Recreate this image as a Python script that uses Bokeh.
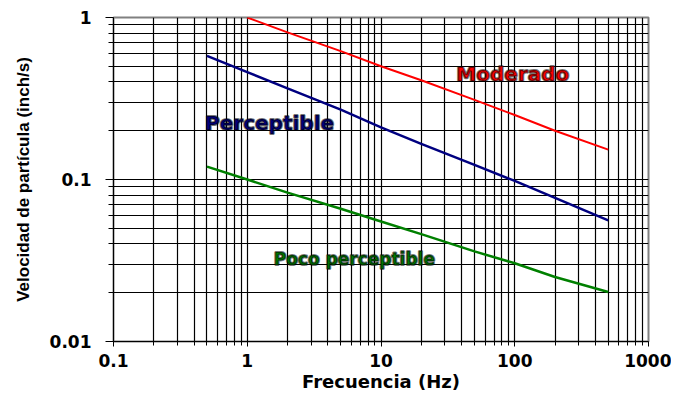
from bokeh.plotting import figure
from bokeh.embed import file_html
from bokeh.resources import INLINE
from bokeh.models import FixedTicker, CustomJSTickFormatter
from bokeh.core.properties import value

# ---- data ----
freq_moderado = [1, 2, 5, 10, 20, 50, 100, 200, 500]
vel_moderado = [1.0, 0.81, 0.62, 0.50, 0.41, 0.31, 0.25, 0.20, 0.153]

freq_percept = [0.5, 1, 2, 5, 10, 20, 50, 100, 200, 500]
vel_percept = [0.58, 0.46, 0.365, 0.27, 0.21, 0.166, 0.123, 0.098, 0.077, 0.056]

freq_poco = [0.5, 1, 2, 5, 10, 20, 50, 100, 200, 500]
vel_poco = [0.12, 0.10, 0.083, 0.066, 0.055, 0.046, 0.036, 0.0304, 0.025, 0.0202]

x_major = [0.1, 1, 10, 100, 1000]
y_major = [0.01, 0.1, 1]

labels = ["Moderado", "Perceptible", "Poco perceptible"]
label_x = [36.6, 0.484, 1.58]
label_y = [0.447, 0.224, 0.0323]
label_colors = ["#FF0000", "#000080", "#008000"]

# styles (not data)
label_sizes = ["20px", "20px", "17px"]

x_minor = [m * d for d in [0.1, 1, 10, 100] for m in range(2, 10)]
y_minor = [m * d for d in [0.01, 0.1] for m in range(2, 10)]

p = figure(width=671, height=395, x_axis_type="log", y_axis_type="log",
           x_range=(0.1, 1000), y_range=(0.01, 1),
           output_backend="svg", toolbar_location=None,
           min_border_left=113, min_border_top=17,
           min_border_right=23, min_border_bottom=54)

p.background_fill_color = "white"
p.border_fill_color = "white"
p.outline_line_color = "#808080"
p.outline_line_width = 2

fmt = CustomJSTickFormatter(code="return String(tick)")

for ax, maj, mnr in ((p.xaxis[0], x_major, x_minor), (p.yaxis[0], y_major, y_minor)):
    ax.ticker = FixedTicker(ticks=maj, minor_ticks=mnr)
    ax.formatter = fmt
    ax.axis_line_color = "black"
    ax.axis_line_width = 1
    ax.major_tick_line_color = "black"
    ax.minor_tick_line_color = "black"
    ax.major_tick_in = 0
    ax.minor_tick_in = 0
    ax.major_label_text_font = "DejaVu Sans"
    ax.major_label_text_font_style = "bold"
    ax.major_label_text_font_size = "17px"
    ax.major_label_text_color = "black"
    ax.axis_label_text_color = "black"
    ax.axis_label_text_font_style = "bold"

p.xaxis.major_tick_out = 5
p.xaxis.minor_tick_out = 4
p.xaxis.major_label_standoff = 7
p.xaxis.axis_label = "Frecuencia (Hz)"
p.xaxis.axis_label_text_font = "DejaVu Sans"
p.xaxis.axis_label_text_font_size = "18px"
p.xaxis.axis_label_standoff = 1

p.yaxis.major_tick_out = 8
p.yaxis.minor_tick_out = 5
p.yaxis.major_label_standoff = 14
p.yaxis.axis_label = "Velocidad de partícula (inch/s)"
p.yaxis.axis_label_text_font = "Liberation Sans"
p.yaxis.axis_label_text_font_size = "17px"
p.yaxis.axis_label_standoff = 14

for g in (p.xgrid[0], p.ygrid[0]):
    g.grid_line_color = "#000000"
    g.grid_line_width = 1.2
    g.minor_grid_line_color = "#000000"
    g.minor_grid_line_width = 1.2

p.line(freq_moderado, vel_moderado, line_color="#FF0000", line_width=2)
p.line(freq_percept, vel_percept, line_color="#000080", line_width=2.5)
p.line(freq_poco, vel_poco, line_color="#008000", line_width=2.5)

for lx, ly, lt, lc, ls in zip(label_x, label_y, labels, label_colors, label_sizes):
    p.text(x=[lx], y=[ly], text=[lt], text_color=lc,
           text_font=value("DejaVu Sans"), text_font_style="bold",
           text_font_size=ls, text_baseline="middle", text_align="left",
           text_outline_color="rgba(0,0,0,0.55)")

open("out.html", "w").write(file_html(p, INLINE))
